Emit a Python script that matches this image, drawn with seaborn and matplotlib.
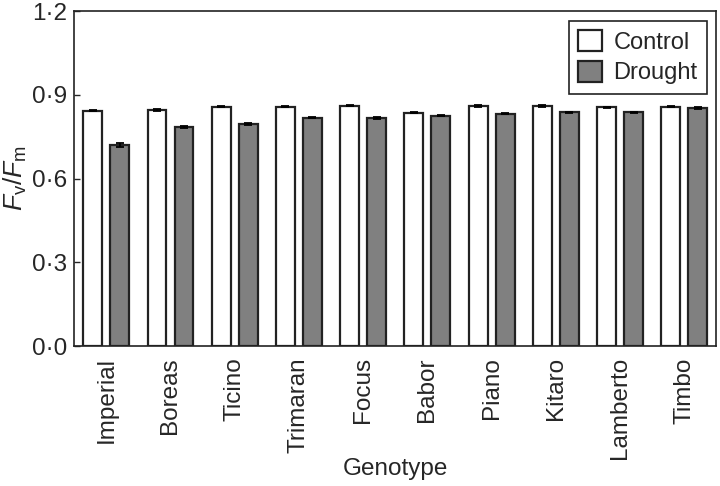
import pandas as pd
import seaborn as sns
import matplotlib.pyplot as plt

# Fv/Fm by genotype
genotypes = ['Imperial', 'Boreas', 'Ticino', 'Trimaran', 'Focus',
             'Babor', 'Piano', 'Kitaro', 'Lamberto', 'Timbo']
control = [0.843, 0.846, 0.857, 0.858, 0.861, 0.836, 0.860, 0.860, 0.856, 0.857]
drought = [0.721, 0.786, 0.796, 0.818, 0.818, 0.825, 0.832, 0.838, 0.838, 0.853]
control_se = [0.002, 0.002, 0.002, 0.002, 0.002, 0.002, 0.002, 0.002, 0.002, 0.002]
drought_se = [0.006, 0.004, 0.004, 0.002, 0.004, 0.002, 0.002, 0.002, 0.002, 0.002]
yticks = [0.0, 0.3, 0.6, 0.9, 1.2]

df = pd.DataFrame({
    'Genotype': genotypes * 2,
    'FvFm': control + drought,
    'se': control_se + drought_se,
    'Treatment': ['Control'] * len(genotypes) + ['Drought'] * len(genotypes),
})

sns.set_style('ticks')
plt.rcParams['font.family'] = ['Liberation Sans', 'DejaVu Sans']
plt.rcParams['mathtext.fontset'] = 'custom'
plt.rcParams['mathtext.rm'] = 'Liberation Sans'
plt.rcParams['mathtext.it'] = 'Liberation Sans:italic'

fig, ax = plt.subplots(figsize=(7.2, 4.86), dpi=100)
sns.barplot(ax=ax, data=df, x='Genotype', y='FvFm', hue='Treatment',
            palette={'Control': 'white', 'Drought': '#808080'},
            edgecolor='#222222', linewidth=1.6, errorbar=None,
            width=0.84, gap=0.3)

# error bars on top of each bar
for cont, trt in zip(ax.containers, ['Control', 'Drought']):
    sub = df[df['Treatment'] == trt]
    xs = [p.get_x() + p.get_width() / 2 for p in cont]
    ax.errorbar(xs, sub['FvFm'], yerr=sub['se'], fmt='none',
                ecolor='black', elinewidth=1.3, capsize=3, capthick=1.3)

ax.set_ylim(0, 1.2)
ax.set_xlim(-0.5, len(genotypes) - 0.5)
ax.set_yticks(yticks)
ax.set_yticklabels([f'{v:.1f}'.replace('.', '\u00b7') for v in yticks], fontsize=17.5)
ax.tick_params(axis='y', direction='in', length=4, width=1, pad=5)
ax.tick_params(axis='x', length=0, labelsize=17.5, labelrotation=90, pad=8)
ax.set_xlabel('Genotype', fontsize=17.5)
ax.xaxis.set_label_coords(0.5, -0.335)
ax.set_ylabel(r'$F_\mathrm{v}/F_\mathrm{m}$', fontsize=19)
ax.yaxis.set_label_coords(-0.07, 0.5)
for s in ax.spines.values():
    s.set_linewidth(1.2)
    s.set_color('#222222')

leg = ax.legend(loc='upper right', fontsize=17, fancybox=False, framealpha=1,
                edgecolor='#222222', handlelength=1.0, handleheight=1.0,
                handletextpad=0.5, borderpad=0.4, labelspacing=0.3,
                borderaxespad=0.4)
leg.get_frame().set_linewidth(1.2)

plt.subplots_adjust(left=0.103, right=0.995, top=0.977, bottom=0.288)
plt.savefig('out.png', dpi=100)
